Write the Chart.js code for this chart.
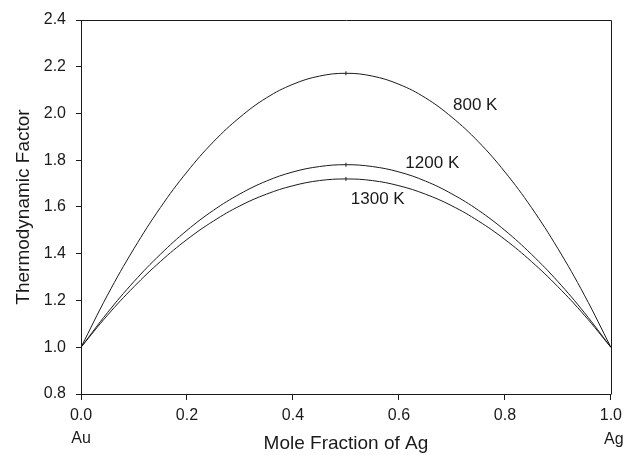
<!DOCTYPE html>
<html>
<head>
<meta charset="utf-8">
<script src="https://cdn.jsdelivr.net/npm/chart.js@4.4.1/dist/chart.umd.min.js"></script>
<style>
  html, body { margin: 0; padding: 0; background: #fff; }
</style>
</head>
<body>
<canvas id="tf-chart" width="628" height="455"></canvas>
<script>
// mole fraction of Ag along the x axis
const moleFraction = [0, 0.05, 0.1, 0.15, 0.2, 0.25, 0.3, 0.35, 0.4, 0.45, 0.5,
                      0.55, 0.6, 0.65, 0.7, 0.75, 0.8, 0.85, 0.9, 0.95, 1];
// thermodynamic factor
const tf800  = [1.000, 1.223, 1.422, 1.598, 1.750, 1.879, 1.984, 2.067, 2.125, 2.160, 2.172,
                2.160, 2.125, 2.067, 1.984, 1.879, 1.750, 1.598, 1.422, 1.223, 1.000];
const tf1200 = [1.000, 1.148, 1.281, 1.398, 1.500, 1.586, 1.656, 1.711, 1.750, 1.773, 1.781,
                1.773, 1.750, 1.711, 1.656, 1.586, 1.500, 1.398, 1.281, 1.148, 1.000];
const tf1300 = [1.000, 1.137, 1.259, 1.367, 1.461, 1.540, 1.605, 1.655, 1.691, 1.713, 1.720,
                1.713, 1.691, 1.655, 1.605, 1.540, 1.461, 1.367, 1.259, 1.137, 1.000];
const seriesNames = ['800 K', '1200 K', '1300 K'];
const endNames = ['Au', 'Ag'];

const INK = '#1a1a1a';
const FONT = '"Liberation Sans", Arial, Helvetica, sans-serif';

function toPoints(values) {
  return values.map(function(v, i) { return { x: moleFraction[i], y: v }; });
}

// small vertical mark at the maximum of each curve
function peakRadius(values) {
  var max = Math.max.apply(null, values);
  return values.map(function(v) { return v === max ? 2 : 0; });
}

function curve(label, values) {
  return {
    label: label,
    data: toPoints(values),
    borderColor: INK,
    borderWidth: 1,
    tension: 0.4,
    pointStyle: 'line',
    pointRotation: 90,
    pointRadius: peakRadius(values),
    pointBorderColor: INK,
    pointBorderWidth: 1,
    fill: false
  };
}

// frame, curve labels and the element names under the x axis
const decorations = {
  id: 'decorations',
  afterDraw: function(chart) {
    var ctx = chart.ctx, a = chart.chartArea;
    var xs = chart.scales.x, ys = chart.scales.y;
    ctx.save();
    ctx.strokeStyle = INK;
    ctx.lineWidth = 1;
    ctx.beginPath();
    ctx.moveTo(Math.round(a.left) + 0.5, Math.round(a.top) + 0.5);
    ctx.lineTo(Math.round(a.right) + 0.5, Math.round(a.top) + 0.5);
    ctx.lineTo(Math.round(a.right) + 0.5, Math.round(a.bottom) + 0.5);
    ctx.stroke();

    ctx.fillStyle = INK;
    ctx.textAlign = 'center';
    ctx.textBaseline = 'middle';
    ctx.font = '17px ' + FONT;
    // anchors in data units: [x, y]
    var anchors = [[0.744, 2.036], [0.663, 1.788], [0.560, 1.634]];
    seriesNames.forEach(function(name, i) {
      ctx.fillText(name, xs.getPixelForValue(anchors[i][0]), ys.getPixelForValue(anchors[i][1]));
    });

    ctx.font = '16px ' + FONT;
    ctx.fillText(endNames[0], xs.getPixelForValue(0), 439);
    ctx.fillText(endNames[1], xs.getPixelForValue(1) + 3, 440);
    ctx.restore();
  }
};

new Chart('tf-chart', {
  type: 'line',
  data: {
    datasets: [
      curve(seriesNames[0], tf800),
      curve(seriesNames[1], tf1200),
      curve(seriesNames[2], tf1300)
    ]
  },
  options: {
    responsive: false,
    animation: false,
    devicePixelRatio: 1,
    layout: { padding: { top: 20, right: 16, left: 0, bottom: 0 } },
    plugins: {
      legend: { display: false },
      tooltip: { enabled: false }
    },
    scales: {
      x: {
        type: 'linear',
        min: 0,
        max: 1,
        afterFit: function(scale) { scale.height = 61; },
        grid: { drawOnChartArea: false, drawTicks: true, tickLength: 6, color: INK },
        border: { display: true, color: INK, width: 1 },
        ticks: {
          stepSize: 0.2,
          padding: 6,
          color: INK,
          font: { family: FONT, size: 16 },
          callback: function(value) { return value.toFixed(1); }
        },
        title: {
          display: true,
          text: 'Mole Fraction of Ag',
          color: INK,
          font: { family: FONT, size: 19 },
          padding: { top: 0, bottom: 0 }
        }
      },
      y: {
        type: 'linear',
        min: 0.8,
        max: 2.4,
        afterFit: function(scale) { scale.width = 81; },
        grid: { drawOnChartArea: false, drawTicks: true, tickLength: 5, color: INK },
        border: { display: true, color: INK, width: 1 },
        ticks: {
          stepSize: 0.2,
          padding: 10,
          color: INK,
          font: { family: FONT, size: 16 },
          callback: function(value) { return value.toFixed(1); }
        },
        title: {
          display: true,
          text: 'Thermodynamic Factor',
          color: INK,
          font: { family: FONT, size: 19 },
          padding: { top: 12, bottom: 0 }
        }
      }
    }
  },
  plugins: [decorations]
});
</script>
</body>
</html>
